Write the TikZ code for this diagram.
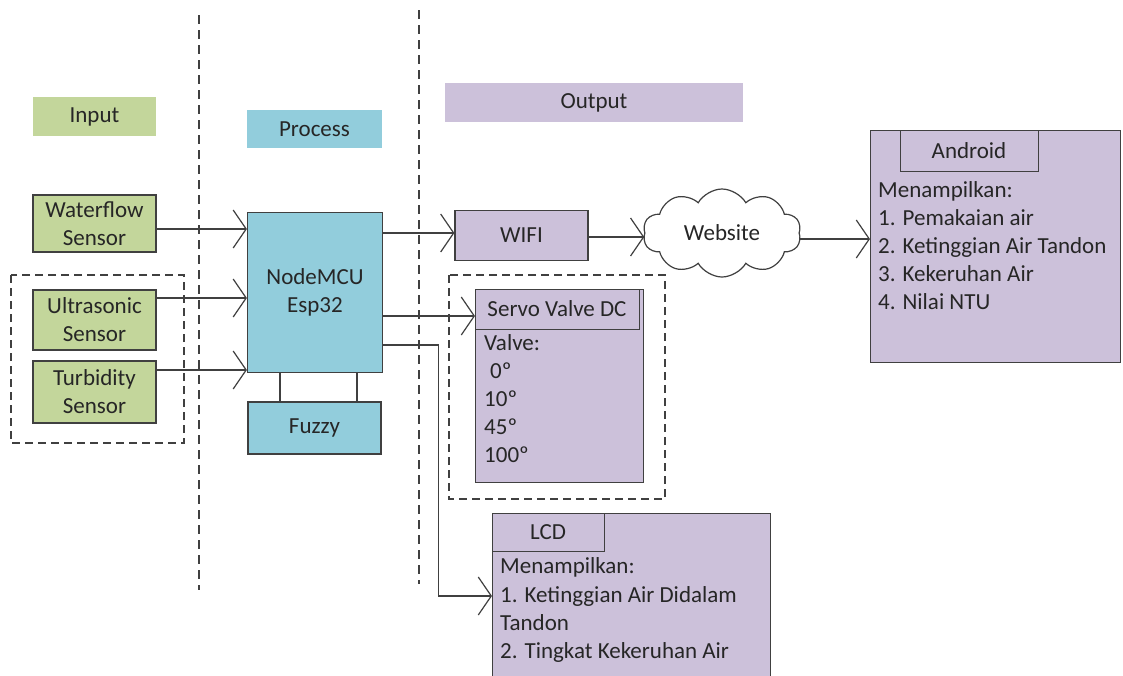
\documentclass[tikz,border=0pt]{standalone}
\usepackage{fontspec}
\setmainfont{Carlito}
\usetikzlibrary{arrows.meta,shapes.symbols,positioning}
\definecolor{gfill}{HTML}{C3D69B}
\definecolor{bfill}{HTML}{92CDDC}
\definecolor{pfill}{HTML}{CCC1DA}
\definecolor{edge}{HTML}{404040}
\definecolor{txt}{HTML}{262626}
\begin{document}
\begin{tikzpicture}[x=1pt,y=-1pt,
  every node/.style={font=\fontsize{23}{28}\selectfont, text=txt, inner sep=0pt},
  lbl/.style={minimum width=#1, minimum height=39pt},
  blk/.style={draw=edge, line width=1.2pt, align=center},
  grp/.style={draw=edge, line width=1.2pt, dash pattern=on 8pt off 5pt},
  sep/.style={draw=edge, line width=1.3pt, dash pattern=on 9pt off 6pt},
  arr/.style={draw=edge, line width=1.2pt, -{Straight Barb[length=13pt,width=38pt]}},
  ln/.style={draw=edge, line width=1.2pt},
  txtl/.style={anchor=base west}
]
\useasboundingbox (0,0) rectangle (1123,675);
\fill[white] (0,0) rectangle (1123,675);

% separators
\coordinate (s1t) at (199,15);
\coordinate (s1b) at (199,590);
\coordinate (s2t) at (419,10);
\coordinate (s2b) at (419,584);
\draw[sep] (s1t) -- (s1b);
\draw[sep] (s2t) -- (s2b);

% section labels
\node[lbl=123pt, fill=gfill] (inp) at (94.5,116.5) {Input};
\node[lbl=135pt, fill=bfill, minimum height=38pt] (proc) at (314.5,129) {Process};
\node[lbl=298pt, fill=pfill] (outp) at (594,102.5) {Output};

% sensors
\node[blk, fill=gfill, minimum width=123pt, minimum height=57pt] (wf) at (94.5,223.5) {Waterflow\\Sensor};
\coordinate (g1a) at (11,275);
\coordinate (g1b) at (184,443);
\draw[grp] (g1a) rectangle (g1b);
\node[blk, fill=gfill, minimum width=123pt, minimum height=60pt] (us) at (94.5,320) {Ultrasonic\\Sensor};
\node[blk, fill=gfill, minimum width=123pt, minimum height=62pt] (tb) at (94.5,392) {Turbidity\\Sensor};

% process
\node[blk, fill=bfill, minimum width=135pt, minimum height=160pt] (mcu) at (315,292.5) {NodeMCU\\Esp32};
\node[blk, fill=bfill, minimum width=133pt, minimum height=52pt] (fz) at (314.5,428) {Fuzzy};
\draw[ln] ([xshift=-35pt]mcu.south) -- ([xshift=-35pt]mcu.south |- fz.north);
\draw[ln] ([xshift=42pt]mcu.south) -- ([xshift=42pt]mcu.south |- fz.north);

% outputs
\node[blk, fill=pfill, minimum width=133pt, minimum height=50pt] (wifi) at (521.5,235.5) {WIFI};
\node[cloud, cloud puffs=10, cloud puff arc=120, aspect=1.75, draw=edge, line width=1.2pt, fill=white, minimum width=158pt, minimum height=88pt] (web) at (722,233) {Website};

% Android
\node[draw=edge, line width=1.2pt, fill=pfill, minimum width=250pt, minimum height=232pt, anchor=north west] (and) at (870,130) {};
\node[draw=edge, line width=1.2pt, fill=pfill, minimum width=138pt, minimum height=41pt, anchor=north west] (andt) at (900,130) {};
\node[anchor=base] (andtt) at (969,158) {Android};
\node[txtl] (a1) at (878,197) {Menampilkan:};
\node[txtl] (a2) at (878,225) {1. Pemakaian air};
\node[txtl] (a3) at (878,253) {2. Ketinggian Air Tandon};
\node[txtl] (a4) at (878,281) {3. Kekeruhan Air};
\node[txtl] (a5) at (878,309) {4. Nilai NTU};

% Servo
\coordinate (g2a) at (449,275);
\coordinate (g2b) at (665,499);
\draw[grp] (g2a) rectangle (g2b);
\node[draw=edge, line width=1.2pt, fill=pfill, minimum width=168pt, minimum height=193pt, anchor=north west] (sv) at (475,289) {};
\node[draw=edge, line width=1.2pt, fill=pfill, minimum width=164pt, minimum height=40pt, anchor=north west] (svt) at (475,289) {};
\node[anchor=base] (svtt) at (557,316) {Servo Valve DC};
\node[txtl] (v1) at (484,350) {Valve:};
\node[txtl] (v2) at (490,378) {0º};
\node[txtl] (v3) at (484,406) {10º};
\node[txtl] (v4) at (484,434) {45º};
\node[txtl] (v5) at (484,462) {100º};

% LCD
\node[draw=edge, line width=1.2pt, fill=pfill, minimum width=278pt, minimum height=175pt, anchor=north west] (lcd) at (492,513) {};
\node[draw=edge, line width=1.2pt, fill=pfill, minimum width=112pt, minimum height=38pt, anchor=north west] (lcdt) at (492,513) {};
\node[anchor=base] (lcdtt) at (548,539) {LCD};
\node[txtl] (l1) at (500,573) {Menampilkan:};
\node[txtl] (l2) at (500,602) {1. Ketinggian Air Didalam};
\node[txtl] (l3) at (500,630) {Tandon};
\node[txtl] (l4) at (500,658) {2. Tingkat Kekeruhan Air};

% connectors
\coordinate (c1) at ([yshift=-5.5pt]wf.east);
\draw[arr] (c1) -- (c1 -| mcu.west);
\coordinate (c2) at ([yshift=22pt]us.east);
\draw[arr] (c2) -- (c2 -| mcu.west);
\coordinate (c3) at ([yshift=22pt]tb.east);
\draw[arr] (c3) -- (c3 -| mcu.west);

\coordinate (c4) at ([yshift=59.5pt]mcu.east);
\draw[arr] (c4) -- (c4 -| wifi.west);
\coordinate (c5) at ([yshift=-23.5pt]mcu.east);
\draw[arr] (c5) -- (c5 -| sv.west);
\coordinate (c6) at ([yshift=-52.5pt]mcu.east);
\coordinate (c6b) at ([xshift=55pt]c6);
\coordinate (c6c) at (c6b |- l2.west);
\draw[arr] (c6) -- (c6b) -- (c6c) -- (c6c -| lcd.west);

\coordinate (c7) at ([yshift=-1.5pt]wifi.east);
\draw[arr] (c7) -- (c7 -| web.west);
\coordinate (c8) at ([yshift=-6pt]web.east);
\draw[arr] (c8) -- (c8 -| and.west);
\end{tikzpicture}
\end{document}
